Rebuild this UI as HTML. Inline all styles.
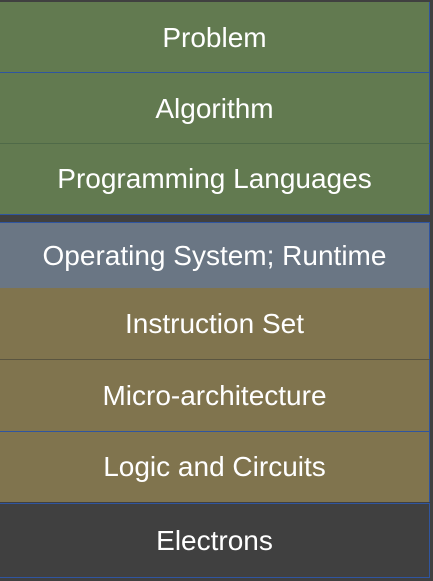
<!DOCTYPE html>
<html><head><style>
html,body{margin:0;padding:0;}
body{width:433px;height:581px;background:#404040;position:relative;overflow:hidden;font-family:"Liberation Sans",sans-serif;}
.r{position:absolute;left:0;width:430px;color:#fff;font-size:28px;display:flex;align-items:center;justify-content:center;box-sizing:border-box;border-right:1px solid #2f55a0;}
.g{background:#627a50;}
.s{background:#6a7684;}
.o{background:#80744e;}
.d{background:#404040;border:1px solid #2f55a0;border-left:none;}
.ln{position:absolute;left:0;width:430px;height:1px;background:#2f55a0;}
</style></head><body>
<div class="r g" style="top:2px;height:71px;">Problem</div>
<div class="ln" style="top:72px"></div>
<div class="r g" style="top:73px;height:71px;">Algorithm</div>
<div class="ln" style="top:143px;background:#4f6a48"></div>
<div class="r g" style="top:144px;height:70px;">Programming Languages</div>
<div class="ln" style="top:214px"></div>
<div class="ln" style="top:222px"></div>
<div class="r s" style="top:223px;height:65px;">Operating System; Runtime</div>
<div class="r o" style="top:288px;height:71px;">Instruction Set</div>
<div class="ln" style="top:359px;background:#5a5540"></div>
<div class="r o" style="top:360px;height:71px;">Micro-architecture</div>
<div class="ln" style="top:431px"></div>
<div class="r o" style="top:432px;height:70px;">Logic and Circuits</div>
<div class="r d" style="top:503px;height:75px;">Electrons</div>
</body></html>
